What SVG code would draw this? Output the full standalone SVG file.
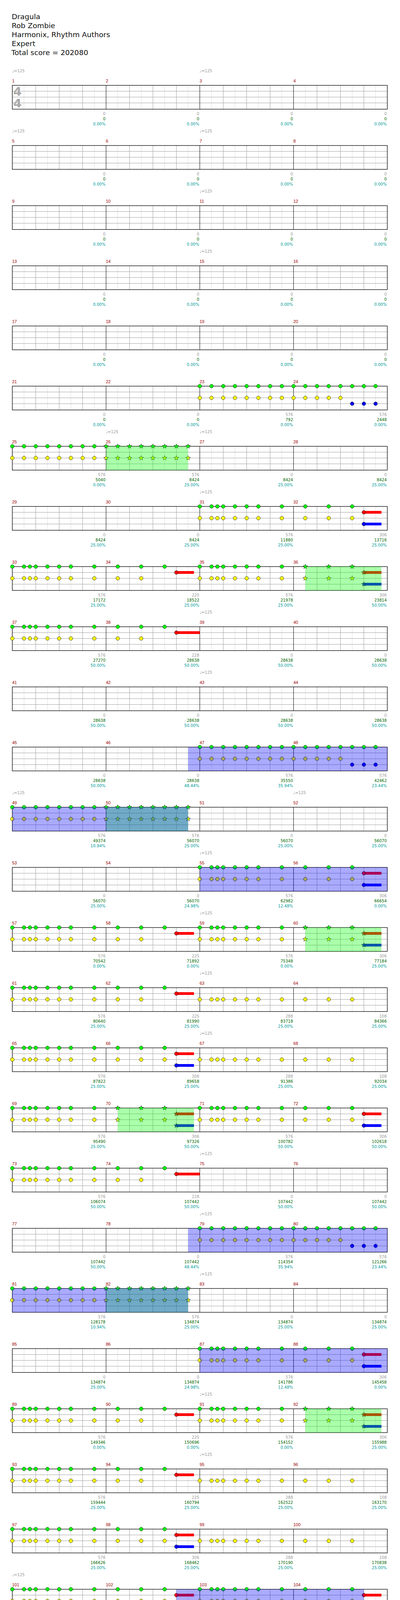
<svg xmlns="http://www.w3.org/2000/svg" xmlns:xlink="http://www.w3.org/1999/xlink" width="1024" height="4530" viewBox="0 0 1024 4530">
<style>
.hd{font-family:"DejaVu Sans",sans-serif;font-size:18.5px;fill:#111}
.mn{font-family:"Liberation Sans",Arial,sans-serif;font-size:11px;fill:#990000}
.tp{font-family:"DejaVu Sans",sans-serif;font-size:10px;fill:#999}
.s{font-family:"DejaVu Sans",sans-serif;font-size:10px;fill:#999;text-anchor:end}
.g{fill:#006600}
.c{fill:#009999}
.ts{font-family:"DejaVu Sans",sans-serif;font-size:31px;font-weight:bold;fill:#aaa}
.lt{stroke:#dddddd;fill:none;stroke-width:1}
.bt{stroke:#a0a0a0;fill:none;stroke-width:1}
.mk{stroke:#000;fill:none;stroke-width:1}
.bd{stroke:#000;fill:none;stroke-width:1.3}
.sp{fill:#00ff00;fill-opacity:.333}
.bo{fill:#0000ff;fill-opacity:.333}
</style>
<defs>
<circle id="cg" r="4.7" fill="#00ff00" stroke="#000" stroke-width="0.8"/>
<circle id="cr" r="4.7" fill="#ff0000" stroke="#000" stroke-width="0.8"/>
<circle id="cy" r="4.7" fill="#ffff00" stroke="#000" stroke-width="0.8"/>
<circle id="cb" r="4.7" fill="#0000ff" stroke="#000" stroke-width="0.8"/>
<polygon id="st" points="0,-6.3 1.5,-2.1 6,-1.9 2.5,0.8 3.7,5.1 0,2.6 -3.7,5.1 -2.5,0.8 -6,-1.9 -1.5,-2.1" stroke="#000" stroke-width="0.7"/>
<g id="G8"><use href="#cg" x="0.5" y="0.5"/><use href="#cg" x="30.5" y="0.5"/><use href="#cg" x="45.5" y="0.5"/><use href="#cg" x="60.5" y="0.5"/><use href="#cg" x="90.5" y="0.5"/><use href="#cg" x="120.5" y="0.5"/><use href="#cg" x="150.5" y="0.5"/><use href="#cg" x="210.5" y="0.5"/></g>
<g id="Y8"><use href="#cy" x="0.5" y="30.5"/><use href="#cy" x="30.5" y="30.5"/><use href="#cy" x="45.5" y="30.5"/><use href="#cy" x="60.5" y="30.5"/><use href="#cy" x="90.5" y="30.5"/><use href="#cy" x="120.5" y="30.5"/><use href="#cy" x="150.5" y="30.5"/><use href="#cy" x="210.5" y="30.5"/></g>
<g id="GY8"><use href="#G8"/><use href="#Y8"/></g>
<g id="G3"><use href="#cg" x="30.5" y="0.5"/><use href="#cg" x="90.5" y="0.5"/><use href="#cg" x="150.5" y="0.5"/></g>
<g id="Y3"><use href="#cy" x="30.5" y="30.5"/><use href="#cy" x="90.5" y="30.5"/><use href="#cy" x="150.5" y="30.5"/></g>
<g id="Y2"><use href="#cy" x="30.5" y="30.5"/><use href="#cy" x="90.5" y="30.5"/></g>
<g id="RS"><rect x="180.5" y="12" width="45" height="7" fill="#ff0000"/><use href="#cr" x="180.5" y="15.5"/></g>
<g id="BS"><rect x="180.5" y="42" width="45" height="7" fill="#0000ff"/><use href="#cb" x="180.5" y="45.5"/></g>
<g id="B1"><use href="#G3"/><use href="#Y2"/><use href="#RS"/></g>
<g id="B2"><use href="#G3"/><use href="#Y3"/><use href="#RS"/><use href="#BS"/></g>
<g id="B3"><use href="#G3"/><use href="#Y2"/><rect x="180.5" y="12" width="60" height="7" fill="#ff0000"/><use href="#cr" x="180.5" y="15.5"/></g>
<g id="GE"><use href="#cg" x="0.5" y="0.5"/><use href="#cg" x="30.5" y="0.5"/><use href="#cg" x="60.5" y="0.5"/><use href="#cg" x="90.5" y="0.5"/><use href="#cg" x="120.5" y="0.5"/><use href="#cg" x="150.5" y="0.5"/><use href="#cg" x="180.5" y="0.5"/><use href="#cg" x="210.5" y="0.5"/></g>
<g id="E8"><use href="#GE"/><use href="#cy" x="0.5" y="30.5"/><use href="#cy" x="30.5" y="30.5"/><use href="#cy" x="60.5" y="30.5"/><use href="#cy" x="90.5" y="30.5"/><use href="#cy" x="120.5" y="30.5"/><use href="#cy" x="150.5" y="30.5"/><use href="#cy" x="180.5" y="30.5"/><use href="#cy" x="210.5" y="30.5"/></g>
<g id="F"><use href="#GE"/><use href="#cy" x="0.5" y="30.5"/><use href="#cy" x="30.5" y="30.5"/><use href="#cy" x="60.5" y="30.5"/><use href="#cy" x="90.5" y="30.5"/><use href="#cy" x="120.5" y="30.5"/><use href="#cb" x="150.5" y="45.5"/><use href="#cb" x="180.5" y="45.5"/><use href="#cb" x="210.5" y="45.5"/></g>
<g id="E8S"><g fill="#00ff00"><use href="#st" x="0.5" y="0.5"/><use href="#st" x="30.5" y="0.5"/><use href="#st" x="60.5" y="0.5"/><use href="#st" x="90.5" y="0.5"/><use href="#st" x="120.5" y="0.5"/><use href="#st" x="150.5" y="0.5"/><use href="#st" x="180.5" y="0.5"/><use href="#st" x="210.5" y="0.5"/></g><g fill="#ffff00"><use href="#st" x="0.5" y="30.5"/><use href="#st" x="30.5" y="30.5"/><use href="#st" x="60.5" y="30.5"/><use href="#st" x="90.5" y="30.5"/><use href="#st" x="120.5" y="30.5"/><use href="#st" x="150.5" y="30.5"/><use href="#st" x="180.5" y="30.5"/><use href="#st" x="210.5" y="30.5"/></g></g>
<g id="S2"><g fill="#00ff00"><use href="#st" x="30.5" y="0.5"/><use href="#st" x="90.5" y="0.5"/><use href="#st" x="150.5" y="0.5"/></g><g fill="#ffff00"><use href="#st" x="30.5" y="30.5"/><use href="#st" x="90.5" y="30.5"/><use href="#st" x="150.5" y="30.5"/></g><rect x="180.5" y="12" width="45" height="7" fill="#ff0000"/><use href="#st" x="180.5" y="15.5" fill="#ff0000"/><rect x="180.5" y="42" width="45" height="7" fill="#0000ff"/><use href="#st" x="180.5" y="45.5" fill="#0000ff"/></g>
<g id="grid4">
<path class="lt" d="M61.5 .5V61.5M121.5 .5V61.5M181.5 .5V61.5M241.5 .5V61.5M301.5 .5V61.5M361.5 .5V61.5M421.5 .5V61.5M481.5 .5V61.5M541.5 .5V61.5M601.5 .5V61.5M661.5 .5V61.5M721.5 .5V61.5M781.5 .5V61.5M841.5 .5V61.5M901.5 .5V61.5M961.5 .5V61.5"/>
<path class="bt" d="M91.5 .5V61.5M151.5 .5V61.5M211.5 .5V61.5M331.5 .5V61.5M391.5 .5V61.5M451.5 .5V61.5M571.5 .5V61.5M631.5 .5V61.5M691.5 .5V61.5M811.5 .5V61.5M871.5 .5V61.5M931.5 .5V61.5M31.5 15.5H991.5M31.5 30.5H991.5M31.5 45.5H991.5"/>
<path class="mk" d="M271.5 .5V61.5M511.5 .5V61.5M751.5 .5V61.5"/>
<rect class="bd" x="31.5" y="0.5" width="960" height="61"/>
</g>
<g id="grid2">
<path class="lt" d="M61.5 .5V61.5M121.5 .5V61.5M181.5 .5V61.5M241.5 .5V61.5M301.5 .5V61.5M361.5 .5V61.5M421.5 .5V61.5M481.5 .5V61.5"/>
<path class="bt" d="M91.5 .5V61.5M151.5 .5V61.5M211.5 .5V61.5M331.5 .5V61.5M391.5 .5V61.5M451.5 .5V61.5M31.5 15.5H511.5M31.5 30.5H511.5M31.5 45.5H511.5"/>
<path class="mk" d="M271.5 .5V61.5"/>
<rect class="bd" x="31.5" y="0.5" width="480" height="61"/>
</g>
</defs>
<rect width="1024" height="4530" fill="#fff"/>
<g id="header" class="hd">
<text x="30" y="49">Dragula</text>
<text x="30" y="72">Rob Zombie</text>
<text x="30" y="95">Harmonix, Rhythm Authors</text>
<text x="30" y="118">Expert</text>
<text x="29" y="141">Total score = 202080</text>
</g>

<g id="row-1" transform="translate(0,218)">
<use href="#grid4"/>
<text class="ts" x="34" y="27">4</text><text class="ts" x="34" y="57">4</text>
<text class="tp" x="31" y="-33">♩=125</text><text class="tp" x="511" y="-33">♩=125</text>
<text class="mn" x="31" y="-7">1</text><text class="mn" x="271" y="-7">2</text><text class="mn" x="511" y="-7">3</text><text class="mn" x="751" y="-7">4</text>
<text class="s" x="270" y="76.5">0<tspan class="g" x="270" dy="13">0</tspan><tspan class="c" x="270" dy="13">0.00%</tspan></text>
<text class="s" x="510" y="76.5">0<tspan class="g" x="510" dy="13">0</tspan><tspan class="c" x="510" dy="13">0.00%</tspan></text>
<text class="s" x="750" y="76.5">0<tspan class="g" x="750" dy="13">0</tspan><tspan class="c" x="750" dy="13">0.00%</tspan></text>
<text class="s" x="990" y="76.5">0<tspan class="g" x="990" dy="13">0</tspan><tspan class="c" x="990" dy="13">0.00%</tspan></text>
</g>

<g id="row-2" transform="translate(0,372)">
<use href="#grid4"/>
<text class="tp" x="31" y="-33">♩=125</text><text class="tp" x="511" y="-33">♩=125</text>
<text class="mn" x="31" y="-7">5</text><text class="mn" x="271" y="-7">6</text><text class="mn" x="511" y="-7">7</text><text class="mn" x="751" y="-7">8</text>
<text class="s" x="270" y="76.5">0<tspan class="g" x="270" dy="13">0</tspan><tspan class="c" x="270" dy="13">0.00%</tspan></text>
<text class="s" x="510" y="76.5">0<tspan class="g" x="510" dy="13">0</tspan><tspan class="c" x="510" dy="13">0.00%</tspan></text>
<text class="s" x="750" y="76.5">0<tspan class="g" x="750" dy="13">0</tspan><tspan class="c" x="750" dy="13">0.00%</tspan></text>
<text class="s" x="990" y="76.5">0<tspan class="g" x="990" dy="13">0</tspan><tspan class="c" x="990" dy="13">0.00%</tspan></text>
</g>

<g id="row-3" transform="translate(0,526)">
<use href="#grid4"/>
<text class="tp" x="511" y="-33">♩=125</text>
<text class="mn" x="31" y="-7">9</text><text class="mn" x="271" y="-7">10</text><text class="mn" x="511" y="-7">11</text><text class="mn" x="751" y="-7">12</text>
<text class="s" x="270" y="76.5">0<tspan class="g" x="270" dy="13">0</tspan><tspan class="c" x="270" dy="13">0.00%</tspan></text>
<text class="s" x="510" y="76.5">0<tspan class="g" x="510" dy="13">0</tspan><tspan class="c" x="510" dy="13">0.00%</tspan></text>
<text class="s" x="750" y="76.5">0<tspan class="g" x="750" dy="13">0</tspan><tspan class="c" x="750" dy="13">0.00%</tspan></text>
<text class="s" x="990" y="76.5">0<tspan class="g" x="990" dy="13">0</tspan><tspan class="c" x="990" dy="13">0.00%</tspan></text>
</g>

<g id="row-4" transform="translate(0,680)">
<use href="#grid4"/>
<text class="tp" x="511" y="-33">♩=125</text>
<text class="mn" x="31" y="-7">13</text><text class="mn" x="271" y="-7">14</text><text class="mn" x="511" y="-7">15</text><text class="mn" x="751" y="-7">16</text>
<text class="s" x="270" y="76.5">0<tspan class="g" x="270" dy="13">0</tspan><tspan class="c" x="270" dy="13">0.00%</tspan></text>
<text class="s" x="510" y="76.5">0<tspan class="g" x="510" dy="13">0</tspan><tspan class="c" x="510" dy="13">0.00%</tspan></text>
<text class="s" x="750" y="76.5">0<tspan class="g" x="750" dy="13">0</tspan><tspan class="c" x="750" dy="13">0.00%</tspan></text>
<text class="s" x="990" y="76.5">0<tspan class="g" x="990" dy="13">0</tspan><tspan class="c" x="990" dy="13">0.00%</tspan></text>
</g>

<g id="row-5" transform="translate(0,834)">
<use href="#grid4"/>
<text class="mn" x="31" y="-7">17</text><text class="mn" x="271" y="-7">18</text><text class="mn" x="511" y="-7">19</text><text class="mn" x="751" y="-7">20</text>
<text class="s" x="270" y="76.5">0<tspan class="g" x="270" dy="13">0</tspan><tspan class="c" x="270" dy="13">0.00%</tspan></text>
<text class="s" x="510" y="76.5">0<tspan class="g" x="510" dy="13">0</tspan><tspan class="c" x="510" dy="13">0.00%</tspan></text>
<text class="s" x="750" y="76.5">0<tspan class="g" x="750" dy="13">0</tspan><tspan class="c" x="750" dy="13">0.00%</tspan></text>
<text class="s" x="990" y="76.5">0<tspan class="g" x="990" dy="13">0</tspan><tspan class="c" x="990" dy="13">0.00%</tspan></text>
</g>

<g id="row-6" transform="translate(0,988)">
<use href="#grid4"/>
<text class="mn" x="31" y="-7">21</text><text class="mn" x="271" y="-7">22</text><text class="mn" x="511" y="-7">23</text><text class="mn" x="751" y="-7">24</text>
<use href="#E8" x="511"/><use href="#F" x="751"/>
<text class="s" x="270" y="76.5">0<tspan class="g" x="270" dy="13">0</tspan><tspan class="c" x="270" dy="13">0.00%</tspan></text>
<text class="s" x="510" y="76.5">0<tspan class="g" x="510" dy="13">0</tspan><tspan class="c" x="510" dy="13">0.00%</tspan></text>
<text class="s" x="750" y="76.5">576<tspan class="g" x="750" dy="13">792</tspan><tspan class="c" x="750" dy="13">0.00%</tspan></text>
<text class="s" x="990" y="76.5">576<tspan class="g" x="990" dy="13">2448</tspan><tspan class="c" x="990" dy="13">0.00%</tspan></text>
</g>

<g id="row-7" transform="translate(0,1142)">
<use href="#grid4"/>
<text class="tp" x="271" y="-33">♩=125</text><text class="tp" x="511" y="-33">♩=125</text>
<text class="mn" x="31" y="-7">25</text><text class="mn" x="271" y="-7">26</text><text class="mn" x="511" y="-7">27</text><text class="mn" x="751" y="-7">28</text>
<use href="#E8" x="31"/><use href="#E8S" x="271"/>
<rect class="sp" x="271.5" y="0.5" width="210" height="61"/>
<text class="s" x="270" y="76.5">576<tspan class="g" x="270" dy="13">5040</tspan><tspan class="c" x="270" dy="13">0.00%</tspan></text>
<text class="s" x="510" y="76.5">576<tspan class="g" x="510" dy="13">8424</tspan><tspan class="c" x="510" dy="13">25.00%</tspan></text>
<text class="s" x="750" y="76.5">0<tspan class="g" x="750" dy="13">8424</tspan><tspan class="c" x="750" dy="13">25.00%</tspan></text>
<text class="s" x="990" y="76.5">0<tspan class="g" x="990" dy="13">8424</tspan><tspan class="c" x="990" dy="13">25.00%</tspan></text>
</g>

<g id="row-8" transform="translate(0,1296)">
<use href="#grid4"/>
<text class="tp" x="511" y="-33">♩=125</text>
<text class="mn" x="31" y="-7">29</text><text class="mn" x="271" y="-7">30</text><text class="mn" x="511" y="-7">31</text><text class="mn" x="751" y="-7">32</text>
<use href="#GY8" x="511"/><use href="#B2" x="751"/>
<text class="s" x="270" y="76.5">0<tspan class="g" x="270" dy="13">8424</tspan><tspan class="c" x="270" dy="13">25.00%</tspan></text>
<text class="s" x="510" y="76.5">0<tspan class="g" x="510" dy="13">8424</tspan><tspan class="c" x="510" dy="13">25.00%</tspan></text>
<text class="s" x="750" y="76.5">576<tspan class="g" x="750" dy="13">11880</tspan><tspan class="c" x="750" dy="13">25.00%</tspan></text>
<text class="s" x="990" y="76.5">306<tspan class="g" x="990" dy="13">13716</tspan><tspan class="c" x="990" dy="13">25.00%</tspan></text>
</g>

<g id="row-9" transform="translate(0,1450)">
<use href="#grid4"/>
<text class="mn" x="31" y="-7">33</text><text class="mn" x="271" y="-7">34</text><text class="mn" x="511" y="-7">35</text><text class="mn" x="751" y="-7">36</text>
<use href="#GY8" x="31"/><use href="#B1" x="271"/><use href="#GY8" x="511"/><use href="#S2" x="751"/>
<rect class="sp" x="781.5" y="0.5" width="195" height="61"/>
<text class="s" x="270" y="76.5">576<tspan class="g" x="270" dy="13">17172</tspan><tspan class="c" x="270" dy="13">25.00%</tspan></text>
<text class="s" x="510" y="76.5">225<tspan class="g" x="510" dy="13">18522</tspan><tspan class="c" x="510" dy="13">25.00%</tspan></text>
<text class="s" x="750" y="76.5">576<tspan class="g" x="750" dy="13">21978</tspan><tspan class="c" x="750" dy="13">25.00%</tspan></text>
<text class="s" x="990" y="76.5">306<tspan class="g" x="990" dy="13">23814</tspan><tspan class="c" x="990" dy="13">50.00%</tspan></text>
</g>

<g id="row-10" transform="translate(0,1604)">
<use href="#grid4"/>
<text class="tp" x="511" y="-33">♩=125</text>
<text class="mn" x="31" y="-7">37</text><text class="mn" x="271" y="-7">38</text><text class="mn" x="511" y="-7">39</text><text class="mn" x="751" y="-7">40</text>
<use href="#GY8" x="31"/><use href="#B3" x="271"/>
<text class="s" x="270" y="76.5">576<tspan class="g" x="270" dy="13">27270</tspan><tspan class="c" x="270" dy="13">50.00%</tspan></text>
<text class="s" x="510" y="76.5">228<tspan class="g" x="510" dy="13">28638</tspan><tspan class="c" x="510" dy="13">50.00%</tspan></text>
<text class="s" x="750" y="76.5">0<tspan class="g" x="750" dy="13">28638</tspan><tspan class="c" x="750" dy="13">50.00%</tspan></text>
<text class="s" x="990" y="76.5">0<tspan class="g" x="990" dy="13">28638</tspan><tspan class="c" x="990" dy="13">50.00%</tspan></text>
</g>

<g id="row-11" transform="translate(0,1758)">
<use href="#grid4"/>
<text class="tp" x="511" y="-33">♩=125</text>
<text class="mn" x="31" y="-7">41</text><text class="mn" x="271" y="-7">42</text><text class="mn" x="511" y="-7">43</text><text class="mn" x="751" y="-7">44</text>
<text class="s" x="270" y="76.5">0<tspan class="g" x="270" dy="13">28638</tspan><tspan class="c" x="270" dy="13">50.00%</tspan></text>
<text class="s" x="510" y="76.5">0<tspan class="g" x="510" dy="13">28638</tspan><tspan class="c" x="510" dy="13">50.00%</tspan></text>
<text class="s" x="750" y="76.5">0<tspan class="g" x="750" dy="13">28638</tspan><tspan class="c" x="750" dy="13">50.00%</tspan></text>
<text class="s" x="990" y="76.5">0<tspan class="g" x="990" dy="13">28638</tspan><tspan class="c" x="990" dy="13">50.00%</tspan></text>
</g>

<g id="row-12" transform="translate(0,1912)">
<use href="#grid4"/>
<text class="mn" x="31" y="-7">45</text><text class="mn" x="271" y="-7">46</text><text class="mn" x="511" y="-7">47</text><text class="mn" x="751" y="-7">48</text>
<use href="#E8" x="511"/><use href="#F" x="751"/>
<rect class="bo" x="481.5" y="0.5" width="510" height="61"/>
<text class="s" x="270" y="76.5">0<tspan class="g" x="270" dy="13">28638</tspan><tspan class="c" x="270" dy="13">50.00%</tspan></text>
<text class="s" x="510" y="76.5">0<tspan class="g" x="510" dy="13">28638</tspan><tspan class="c" x="510" dy="13">48.44%</tspan></text>
<text class="s" x="750" y="76.5">576<tspan class="g" x="750" dy="13">35550</tspan><tspan class="c" x="750" dy="13">35.94%</tspan></text>
<text class="s" x="990" y="76.5">576<tspan class="g" x="990" dy="13">42462</tspan><tspan class="c" x="990" dy="13">23.44%</tspan></text>
</g>

<g id="row-13" transform="translate(0,2066)">
<use href="#grid4"/>
<text class="tp" x="31" y="-33">♩=125</text><text class="tp" x="751" y="-33">♩=125</text>
<text class="mn" x="31" y="-7">49</text><text class="mn" x="271" y="-7">50</text><text class="mn" x="511" y="-7">51</text><text class="mn" x="751" y="-7">52</text>
<use href="#E8" x="31"/><use href="#E8S" x="271"/>
<rect class="sp" x="271.5" y="0.5" width="210" height="61"/>
<rect class="bo" x="31.5" y="0.5" width="450" height="61"/>
<text class="s" x="270" y="76.5">576<tspan class="g" x="270" dy="13">49374</tspan><tspan class="c" x="270" dy="13">10.94%</tspan></text>
<text class="s" x="510" y="76.5">576<tspan class="g" x="510" dy="13">56070</tspan><tspan class="c" x="510" dy="13">25.00%</tspan></text>
<text class="s" x="750" y="76.5">0<tspan class="g" x="750" dy="13">56070</tspan><tspan class="c" x="750" dy="13">25.00%</tspan></text>
<text class="s" x="990" y="76.5">0<tspan class="g" x="990" dy="13">56070</tspan><tspan class="c" x="990" dy="13">25.00%</tspan></text>
</g>

<g id="row-14" transform="translate(0,2220)">
<use href="#grid4"/>
<text class="tp" x="511" y="-33">♩=125</text>
<text class="mn" x="31" y="-7">53</text><text class="mn" x="271" y="-7">54</text><text class="mn" x="511" y="-7">55</text><text class="mn" x="751" y="-7">56</text>
<use href="#GY8" x="511"/><use href="#B2" x="751"/>
<rect class="bo" x="511.5" y="0.5" width="480" height="61"/>
<text class="s" x="270" y="76.5">0<tspan class="g" x="270" dy="13">56070</tspan><tspan class="c" x="270" dy="13">25.00%</tspan></text>
<text class="s" x="510" y="76.5">0<tspan class="g" x="510" dy="13">56070</tspan><tspan class="c" x="510" dy="13">24.98%</tspan></text>
<text class="s" x="750" y="76.5">576<tspan class="g" x="750" dy="13">62982</tspan><tspan class="c" x="750" dy="13">12.48%</tspan></text>
<text class="s" x="990" y="76.5">306<tspan class="g" x="990" dy="13">66654</tspan><tspan class="c" x="990" dy="13">0.00%</tspan></text>
</g>

<g id="row-15" transform="translate(0,2374)">
<use href="#grid4"/>
<text class="tp" x="511" y="-33">♩=125</text>
<text class="mn" x="31" y="-7">57</text><text class="mn" x="271" y="-7">58</text><text class="mn" x="511" y="-7">59</text><text class="mn" x="751" y="-7">60</text>
<use href="#GY8" x="31"/><use href="#B1" x="271"/><use href="#GY8" x="511"/><use href="#S2" x="751"/>
<rect class="sp" x="781.5" y="0.5" width="195" height="61"/>
<text class="s" x="270" y="76.5">576<tspan class="g" x="270" dy="13">70542</tspan><tspan class="c" x="270" dy="13">0.00%</tspan></text>
<text class="s" x="510" y="76.5">225<tspan class="g" x="510" dy="13">71892</tspan><tspan class="c" x="510" dy="13">0.00%</tspan></text>
<text class="s" x="750" y="76.5">576<tspan class="g" x="750" dy="13">75348</tspan><tspan class="c" x="750" dy="13">0.00%</tspan></text>
<text class="s" x="990" y="76.5">306<tspan class="g" x="990" dy="13">77184</tspan><tspan class="c" x="990" dy="13">25.00%</tspan></text>
</g>

<g id="row-16" transform="translate(0,2528)">
<use href="#grid4"/>
<text class="tp" x="511" y="-33">♩=125</text>
<text class="mn" x="31" y="-7">61</text><text class="mn" x="271" y="-7">62</text><text class="mn" x="511" y="-7">63</text><text class="mn" x="751" y="-7">64</text>
<use href="#GY8" x="31"/><use href="#B1" x="271"/><use href="#Y8" x="511"/><use href="#Y3" x="751"/>
<text class="s" x="270" y="76.5">576<tspan class="g" x="270" dy="13">80640</tspan><tspan class="c" x="270" dy="13">25.00%</tspan></text>
<text class="s" x="510" y="76.5">225<tspan class="g" x="510" dy="13">81990</tspan><tspan class="c" x="510" dy="13">25.00%</tspan></text>
<text class="s" x="750" y="76.5">288<tspan class="g" x="750" dy="13">83718</tspan><tspan class="c" x="750" dy="13">25.00%</tspan></text>
<text class="s" x="990" y="76.5">108<tspan class="g" x="990" dy="13">84366</tspan><tspan class="c" x="990" dy="13">25.00%</tspan></text>
</g>

<g id="row-17" transform="translate(0,2682)">
<use href="#grid4"/>
<text class="tp" x="511" y="-33">♩=125</text>
<text class="mn" x="31" y="-7">65</text><text class="mn" x="271" y="-7">66</text><text class="mn" x="511" y="-7">67</text><text class="mn" x="751" y="-7">68</text>
<use href="#GY8" x="31"/><use href="#B2" x="271"/><use href="#Y8" x="511"/><use href="#Y3" x="751"/>
<text class="s" x="270" y="76.5">576<tspan class="g" x="270" dy="13">87822</tspan><tspan class="c" x="270" dy="13">25.00%</tspan></text>
<text class="s" x="510" y="76.5">306<tspan class="g" x="510" dy="13">89658</tspan><tspan class="c" x="510" dy="13">25.00%</tspan></text>
<text class="s" x="750" y="76.5">288<tspan class="g" x="750" dy="13">91386</tspan><tspan class="c" x="750" dy="13">25.00%</tspan></text>
<text class="s" x="990" y="76.5">108<tspan class="g" x="990" dy="13">92034</tspan><tspan class="c" x="990" dy="13">25.00%</tspan></text>
</g>

<g id="row-18" transform="translate(0,2836)">
<use href="#grid4"/>
<text class="mn" x="31" y="-7">69</text><text class="mn" x="271" y="-7">70</text><text class="mn" x="511" y="-7">71</text><text class="mn" x="751" y="-7">72</text>
<use href="#GY8" x="31"/><use href="#S2" x="271"/><use href="#GY8" x="511"/><use href="#B2" x="751"/>
<rect class="sp" x="301.5" y="0.5" width="195" height="61"/>
<text class="s" x="270" y="76.5">576<tspan class="g" x="270" dy="13">95490</tspan><tspan class="c" x="270" dy="13">25.00%</tspan></text>
<text class="s" x="510" y="76.5">306<tspan class="g" x="510" dy="13">97326</tspan><tspan class="c" x="510" dy="13">50.00%</tspan></text>
<text class="s" x="750" y="76.5">576<tspan class="g" x="750" dy="13">100782</tspan><tspan class="c" x="750" dy="13">50.00%</tspan></text>
<text class="s" x="990" y="76.5">306<tspan class="g" x="990" dy="13">102618</tspan><tspan class="c" x="990" dy="13">50.00%</tspan></text>
</g>

<g id="row-19" transform="translate(0,2990)">
<use href="#grid4"/>
<text class="tp" x="511" y="-33">♩=125</text>
<text class="mn" x="31" y="-7">73</text><text class="mn" x="271" y="-7">74</text><text class="mn" x="511" y="-7">75</text><text class="mn" x="751" y="-7">76</text>
<use href="#GY8" x="31"/><use href="#B3" x="271"/>
<text class="s" x="270" y="76.5">576<tspan class="g" x="270" dy="13">106074</tspan><tspan class="c" x="270" dy="13">50.00%</tspan></text>
<text class="s" x="510" y="76.5">228<tspan class="g" x="510" dy="13">107442</tspan><tspan class="c" x="510" dy="13">50.00%</tspan></text>
<text class="s" x="750" y="76.5">0<tspan class="g" x="750" dy="13">107442</tspan><tspan class="c" x="750" dy="13">50.00%</tspan></text>
<text class="s" x="990" y="76.5">0<tspan class="g" x="990" dy="13">107442</tspan><tspan class="c" x="990" dy="13">50.00%</tspan></text>
</g>

<g id="row-20" transform="translate(0,3144)">
<use href="#grid4"/>
<text class="tp" x="511" y="-33">♩=125</text>
<text class="mn" x="31" y="-7">77</text><text class="mn" x="271" y="-7">78</text><text class="mn" x="511" y="-7">79</text><text class="mn" x="751" y="-7">80</text>
<use href="#E8" x="511"/><use href="#F" x="751"/>
<rect class="bo" x="481.5" y="0.5" width="510" height="61"/>
<text class="s" x="270" y="76.5">0<tspan class="g" x="270" dy="13">107442</tspan><tspan class="c" x="270" dy="13">50.00%</tspan></text>
<text class="s" x="510" y="76.5">0<tspan class="g" x="510" dy="13">107442</tspan><tspan class="c" x="510" dy="13">48.44%</tspan></text>
<text class="s" x="750" y="76.5">576<tspan class="g" x="750" dy="13">114354</tspan><tspan class="c" x="750" dy="13">35.94%</tspan></text>
<text class="s" x="990" y="76.5">576<tspan class="g" x="990" dy="13">121266</tspan><tspan class="c" x="990" dy="13">23.44%</tspan></text>
</g>

<g id="row-21" transform="translate(0,3298)">
<use href="#grid4"/>
<text class="tp" x="511" y="-33">♩=125</text>
<text class="mn" x="31" y="-7">81</text><text class="mn" x="271" y="-7">82</text><text class="mn" x="511" y="-7">83</text><text class="mn" x="751" y="-7">84</text>
<use href="#E8" x="31"/><use href="#E8S" x="271"/>
<rect class="sp" x="271.5" y="0.5" width="210" height="61"/>
<rect class="bo" x="31.5" y="0.5" width="450" height="61"/>
<text class="s" x="270" y="76.5">576<tspan class="g" x="270" dy="13">128178</tspan><tspan class="c" x="270" dy="13">10.94%</tspan></text>
<text class="s" x="510" y="76.5">576<tspan class="g" x="510" dy="13">134874</tspan><tspan class="c" x="510" dy="13">25.00%</tspan></text>
<text class="s" x="750" y="76.5">0<tspan class="g" x="750" dy="13">134874</tspan><tspan class="c" x="750" dy="13">25.00%</tspan></text>
<text class="s" x="990" y="76.5">0<tspan class="g" x="990" dy="13">134874</tspan><tspan class="c" x="990" dy="13">25.00%</tspan></text>
</g>

<g id="row-22" transform="translate(0,3452)">
<use href="#grid4"/>
<text class="mn" x="31" y="-7">85</text><text class="mn" x="271" y="-7">86</text><text class="mn" x="511" y="-7">87</text><text class="mn" x="751" y="-7">88</text>
<use href="#GY8" x="511"/><use href="#B2" x="751"/>
<rect class="bo" x="511.5" y="0.5" width="480" height="61"/>
<text class="s" x="270" y="76.5">0<tspan class="g" x="270" dy="13">134874</tspan><tspan class="c" x="270" dy="13">25.00%</tspan></text>
<text class="s" x="510" y="76.5">0<tspan class="g" x="510" dy="13">134874</tspan><tspan class="c" x="510" dy="13">24.98%</tspan></text>
<text class="s" x="750" y="76.5">576<tspan class="g" x="750" dy="13">141786</tspan><tspan class="c" x="750" dy="13">12.48%</tspan></text>
<text class="s" x="990" y="76.5">306<tspan class="g" x="990" dy="13">145458</tspan><tspan class="c" x="990" dy="13">0.00%</tspan></text>
</g>

<g id="row-23" transform="translate(0,3606)">
<use href="#grid4"/>
<text class="tp" x="511" y="-33">♩=125</text>
<text class="mn" x="31" y="-7">89</text><text class="mn" x="271" y="-7">90</text><text class="mn" x="511" y="-7">91</text><text class="mn" x="751" y="-7">92</text>
<use href="#GY8" x="31"/><use href="#B1" x="271"/><use href="#GY8" x="511"/><use href="#S2" x="751"/>
<rect class="sp" x="781.5" y="0.5" width="195" height="61"/>
<text class="s" x="270" y="76.5">576<tspan class="g" x="270" dy="13">149346</tspan><tspan class="c" x="270" dy="13">0.00%</tspan></text>
<text class="s" x="510" y="76.5">225<tspan class="g" x="510" dy="13">150696</tspan><tspan class="c" x="510" dy="13">0.00%</tspan></text>
<text class="s" x="750" y="76.5">576<tspan class="g" x="750" dy="13">154152</tspan><tspan class="c" x="750" dy="13">0.00%</tspan></text>
<text class="s" x="990" y="76.5">306<tspan class="g" x="990" dy="13">155988</tspan><tspan class="c" x="990" dy="13">25.00%</tspan></text>
</g>

<g id="row-24" transform="translate(0,3760)">
<use href="#grid4"/>
<text class="tp" x="511" y="-33">♩=125</text>
<text class="mn" x="31" y="-7">93</text><text class="mn" x="271" y="-7">94</text><text class="mn" x="511" y="-7">95</text><text class="mn" x="751" y="-7">96</text>
<use href="#GY8" x="31"/><use href="#B1" x="271"/><use href="#Y8" x="511"/><use href="#Y3" x="751"/>
<text class="s" x="270" y="76.5">576<tspan class="g" x="270" dy="13">159444</tspan><tspan class="c" x="270" dy="13">25.00%</tspan></text>
<text class="s" x="510" y="76.5">225<tspan class="g" x="510" dy="13">160794</tspan><tspan class="c" x="510" dy="13">25.00%</tspan></text>
<text class="s" x="750" y="76.5">288<tspan class="g" x="750" dy="13">162522</tspan><tspan class="c" x="750" dy="13">25.00%</tspan></text>
<text class="s" x="990" y="76.5">108<tspan class="g" x="990" dy="13">163170</tspan><tspan class="c" x="990" dy="13">25.00%</tspan></text>
</g>

<g id="row-25" transform="translate(0,3914)">
<use href="#grid4"/>
<text class="mn" x="31" y="-7">97</text><text class="mn" x="271" y="-7">98</text><text class="mn" x="511" y="-7">99</text><text class="mn" x="751" y="-7">100</text>
<use href="#GY8" x="31"/><use href="#B2" x="271"/><use href="#Y8" x="511"/><use href="#Y3" x="751"/>
<text class="s" x="270" y="76.5">576<tspan class="g" x="270" dy="13">166626</tspan><tspan class="c" x="270" dy="13">25.00%</tspan></text>
<text class="s" x="510" y="76.5">306<tspan class="g" x="510" dy="13">168462</tspan><tspan class="c" x="510" dy="13">25.00%</tspan></text>
<text class="s" x="750" y="76.5">288<tspan class="g" x="750" dy="13">170190</tspan><tspan class="c" x="750" dy="13">25.00%</tspan></text>
<text class="s" x="990" y="76.5">108<tspan class="g" x="990" dy="13">170838</tspan><tspan class="c" x="990" dy="13">25.00%</tspan></text>
</g>

<g id="row-26" transform="translate(0,4068)">
<use href="#grid4"/>
<text class="tp" x="31" y="-33">♩=125</text>
<text class="mn" x="31" y="-7">101</text><text class="mn" x="271" y="-7">102</text><text class="mn" x="511" y="-7">103</text><text class="mn" x="751" y="-7">104</text>
<use href="#GY8" x="31"/><use href="#B2" x="271"/><use href="#GY8" x="511"/><use href="#B2" x="751"/>
<rect class="bo" x="451.5" y="0.5" width="480" height="61"/>
<text class="s" x="270" y="76.5">576<tspan class="g" x="270" dy="13">174294</tspan><tspan class="c" x="270" dy="13">25.00%</tspan></text>
<text class="s" x="510" y="76.5">306<tspan class="g" x="510" dy="13">176670</tspan><tspan class="c" x="510" dy="13">22.12%</tspan></text>
<text class="s" x="750" y="76.5">576<tspan class="g" x="750" dy="13">183582</tspan><tspan class="c" x="750" dy="13">9.62%</tspan></text>
<text class="s" x="990" y="76.5">306<tspan class="g" x="990" dy="13">187158</tspan><tspan class="c" x="990" dy="13">0.00%</tspan></text>
</g>

<g id="row-27" transform="translate(0,4222)">
<use href="#grid4"/>
<text class="tp" x="511" y="-33">♩=125</text>
<text class="mn" x="31" y="-7">105</text><text class="mn" x="271" y="-7">106</text><text class="mn" x="511" y="-7">107</text><text class="mn" x="751" y="-7">108</text>
<use href="#GY8" x="31"/><use href="#B1" x="271"/><use href="#GY8" x="511"/><use href="#B2" x="751"/>
<text class="s" x="270" y="76.5">576<tspan class="g" x="270" dy="13">190614</tspan><tspan class="c" x="270" dy="13">0.00%</tspan></text>
<text class="s" x="510" y="76.5">225<tspan class="g" x="510" dy="13">191964</tspan><tspan class="c" x="510" dy="13">0.00%</tspan></text>
<text class="s" x="750" y="76.5">576<tspan class="g" x="750" dy="13">195420</tspan><tspan class="c" x="750" dy="13">0.00%</tspan></text>
<text class="s" x="990" y="76.5">306<tspan class="g" x="990" dy="13">197256</tspan><tspan class="c" x="990" dy="13">0.00%</tspan></text>
</g>

<g id="row-28" transform="translate(0,4376)">
<use href="#grid2"/>
<text class="mn" x="31" y="-7">109</text><text class="mn" x="271" y="-7">110</text>
<use href="#GY8" x="31"/><use href="#B3" x="271"/>
<text class="s" x="270" y="76.5">576<tspan class="g" x="270" dy="13">200712</tspan><tspan class="c" x="270" dy="13">0.00%</tspan></text>
<text class="s" x="510" y="76.5">228<tspan class="g" x="510" dy="13">202080</tspan><tspan class="c" x="510" dy="13">0.00%</tspan></text>
</g>
</svg>
